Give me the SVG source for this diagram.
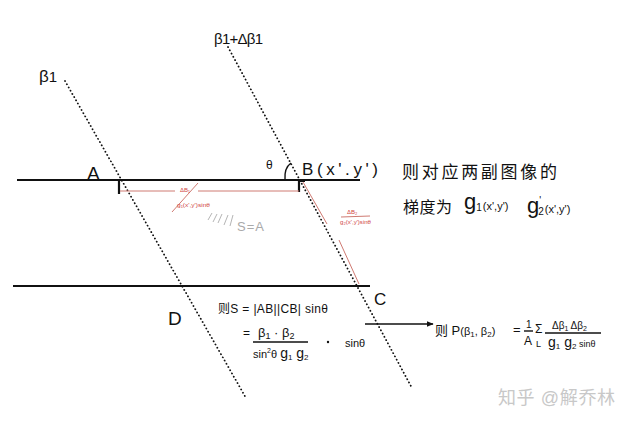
<svg xmlns="http://www.w3.org/2000/svg" width="632" height="422" viewBox="0 0 632 422">
<defs>
<style>
text{font-family:"Liberation Sans","Noto Sans CJK SC",sans-serif;fill:#111}
.solid{stroke:#111;stroke-width:2.2;fill:none}
.dot{stroke:#111;stroke-width:1.8;stroke-linecap:round;stroke-dasharray:0.1 3.6;fill:none}
.red{stroke:#cf7a72;stroke-width:1;fill:none}
.redt{fill:#d0453f}
.gray{fill:#aaa}
.thin{stroke:#111;stroke-width:1.4;fill:none}
</style>
<marker id="ah" viewBox="0 0 10 10" refX="9" refY="5" markerWidth="7" markerHeight="7" orient="auto" markerUnits="userSpaceOnUse">
<path d="M0,1 L10,5 L0,9 Z" fill="#111"/>
</marker>
</defs>
<rect width="632" height="422" fill="#fff"/>

<g id="lines">
<line class="solid" x1="17" y1="180" x2="360" y2="180"/>
<line class="solid" x1="13" y1="286" x2="370" y2="286"/>
<line class="dot" x1="65" y1="81" x2="246" y2="398"/>
<line class="dot" x1="228" y1="47" x2="412" y2="388"/>
<path class="solid" d="M119,180 V194" stroke-width="1.8"/>
<path class="solid" d="M299,192 V181 H305" stroke-width="1.8"/>
<path class="thin" d="M285,180 Q284,168 291,163"/>
</g>

<g id="ab-width">
<line class="red" x1="120" y1="191" x2="175" y2="191"/>
<line class="red" x1="198" y1="191" x2="299" y2="191"/>
<line class="red" x1="172" y1="212" x2="198" y2="183"/>
<text class="redt" x="180" y="192" font-size="6">ΔB₁</text>
<text class="redt" x="177" y="207" font-size="5.5" textLength="33" lengthAdjust="spacingAndGlyphs">g₁(x',y')sinθ</text>
</g>

<g id="cb-width">
<line class="red" x1="303" y1="182" x2="327" y2="224"/>
<line class="red" x1="339" y1="240" x2="359" y2="284"/>
<text class="redt" x="347" y="214" font-size="6">ΔB₂</text>
<line class="red" x1="341" y1="217" x2="370" y2="216"/>
<text class="redt" x="340" y="224" font-size="5.5" textLength="31" lengthAdjust="spacingAndGlyphs">g₂(x',y')sinθ</text>
</g>

<g id="area">
<path d="M208,220 l4,-7 M213,222 l4,-8 M218,223 l4,-9 M224,225 l4,-10 M230,226 l3,-11" stroke="#b5b5b5" stroke-width="1" fill="none"/>
<text class="gray" x="237" y="231" font-size="13" textLength="27" lengthAdjust="spacing">S=A</text>
</g>

<g id="label-beta1"><text x="39" y="82" font-size="17">β<tspan font-size="15">1</tspan></text></g>
<g id="label-beta1d"><text x="214" y="44" font-size="15" textLength="49" lengthAdjust="spacing">β1+Δβ1</text></g>
<g id="node-A"><text x="87" y="180" font-size="19">A</text></g>
<g id="label-theta"><text x="266" y="169" font-size="12">θ</text></g>
<g id="node-B"><text x="302" y="175" font-size="17" textLength="76" lengthAdjust="spacing">B(x'.y')</text></g>
<g id="node-C"><text x="374" y="305" font-size="17">C</text></g>
<g id="node-D"><text x="168" y="325" font-size="19">D</text></g>

<g id="note-gradient">
<text x="402" y="178" font-size="17" textLength="155" lengthAdjust="spacing">则对应两副图像的</text>
<text x="403" y="213" font-size="16" textLength="49" lengthAdjust="spacing">梯度为</text>
<text x="464" y="209" font-size="22">g<tspan font-size="10" dy="2">1</tspan><tspan font-size="11" dy="-1" dx="1">(x',y')</tspan></text>
<text x="527" y="213" font-size="22">g<tspan font-size="10" dy="-9">'</tspan><tspan font-size="10" dx="-3" dy="11">2</tspan><tspan font-size="11" dy="-2" dx="1">(x',y')</tspan></text>
</g>

<g id="formula-S">
<text x="218" y="313" font-size="12" textLength="110" lengthAdjust="spacing">则S = |AB||CB| sinθ</text>
<text x="243" y="337" font-size="12">=</text>
<text x="258" y="337" font-size="13">β<tspan font-size="9" dy="2">1</tspan><tspan dy="-2"> · β</tspan><tspan font-size="9" dy="2">2</tspan></text>
<line class="thin" x1="253" y1="342" x2="308" y2="342"/>
<text x="253" y="358" font-size="11">sin<tspan font-size="7" dy="-5">2</tspan><tspan dy="5">θ </tspan><tspan font-size="14">g</tspan><tspan font-size="8" dy="2">1</tspan><tspan font-size="14" dy="-2"> g</tspan><tspan font-size="8" dy="2">2</tspan></text>
<circle cx="328" cy="342" r="1.2" fill="#111"/>
<text x="345" y="347" font-size="11">sinθ</text>
</g>

<g id="connectors">
<line x1="365" y1="324" x2="433" y2="324" stroke="#111" stroke-width="1.5" marker-end="url(#ah)"/>
</g>

<g id="formula-P">
<text x="435" y="335" font-size="13">则 P<tspan font-size="11">(β</tspan><tspan font-size="8" dy="2">1</tspan><tspan font-size="11" dy="-2">, β</tspan><tspan font-size="8" dy="2">2</tspan><tspan font-size="11" dy="-2">)</tspan></text>
<text x="513" y="334" font-size="13">=</text>
<text x="526" y="328" font-size="10">1</text>
<line class="thin" x1="524" y1="331" x2="533" y2="331" stroke-width="1"/>
<text x="524" y="345" font-size="12">A</text>
<text x="535" y="333" font-size="12">Σ</text>
<text x="536" y="347" font-size="9">L</text>
<text x="552" y="329" font-size="10">Δβ<tspan font-size="7" dy="2">1</tspan><tspan dy="-2"> Δβ</tspan><tspan font-size="7" dy="2">2</tspan></text>
<line class="thin" x1="545" y1="333" x2="601" y2="333"/>
<text x="548" y="347" font-size="14">g<tspan font-size="8" dy="2">1</tspan><tspan dy="-2"> g</tspan><tspan font-size="8" dy="2">2</tspan><tspan font-size="9" dy="-2"> sinθ</tspan></text>
</g>

<g id="watermark">
<text x="498" y="404" font-size="18" fill="#c8c8c8" style="fill:#c8c8c8" textLength="117" lengthAdjust="spacing">知乎 @解乔林</text>
</g>
</svg>
